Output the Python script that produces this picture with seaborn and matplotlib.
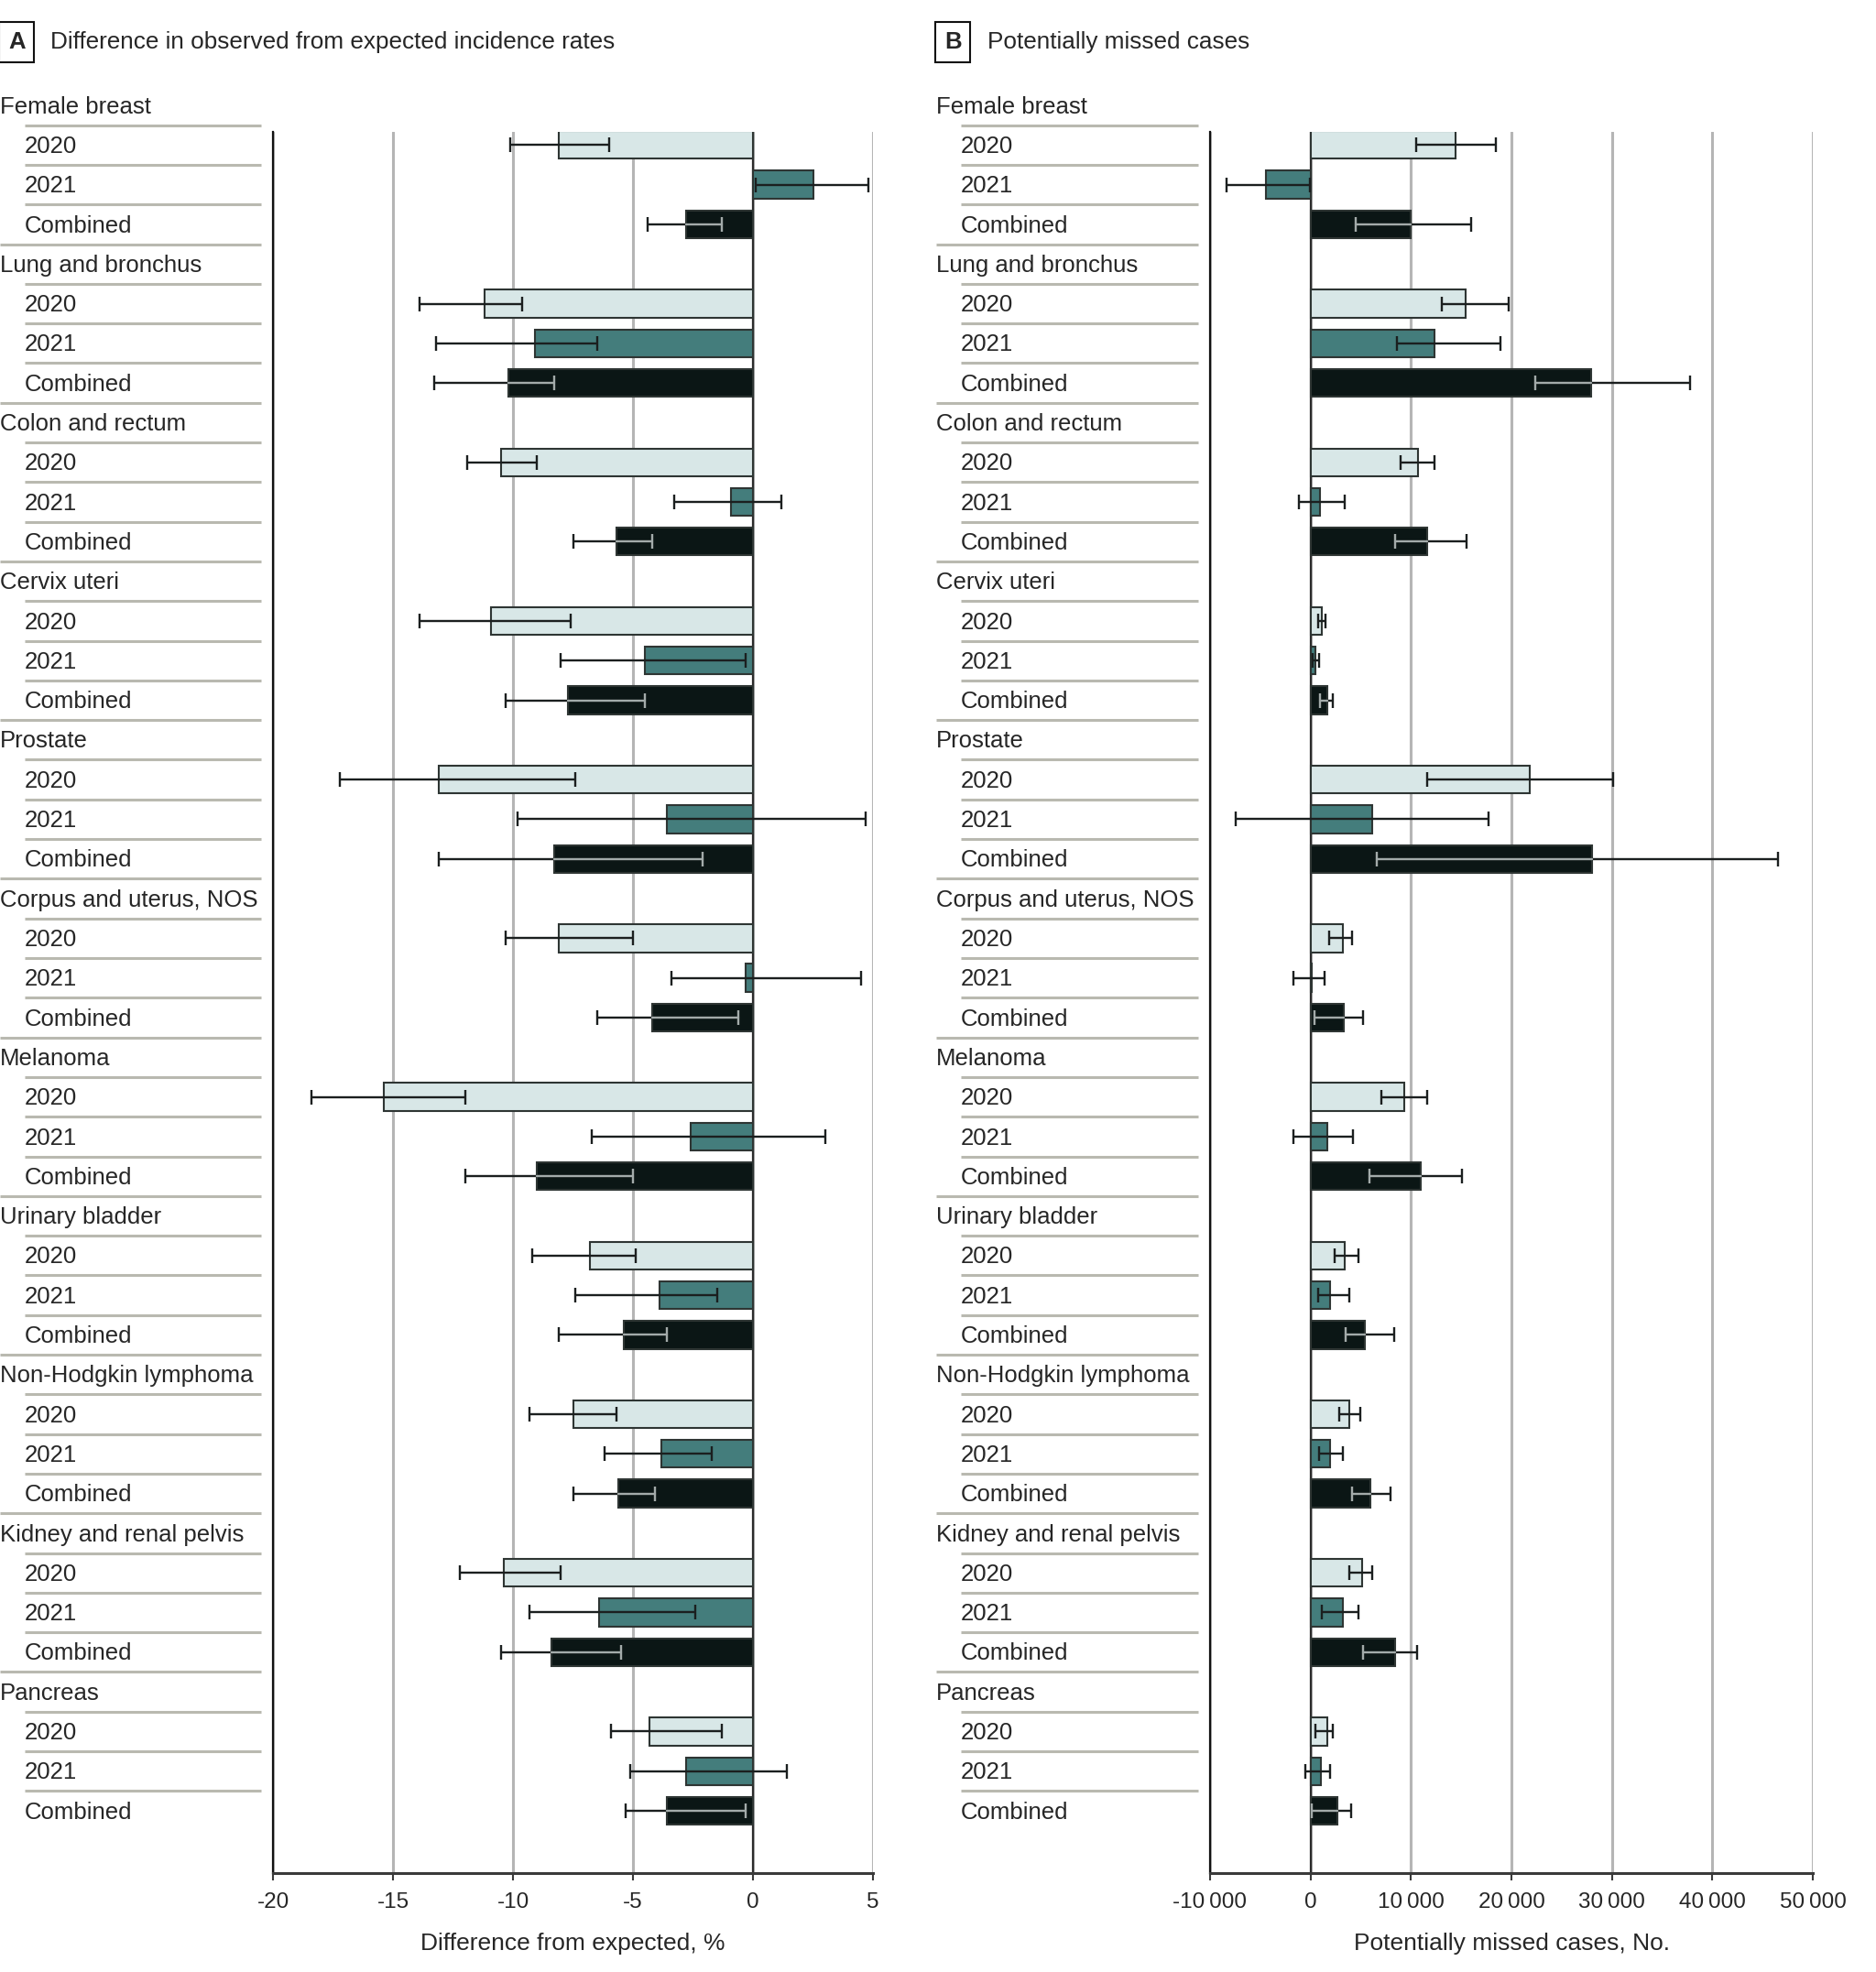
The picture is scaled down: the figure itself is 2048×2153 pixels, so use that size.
import matplotlib
matplotlib.use("Agg")
import matplotlib.pyplot as plt
import matplotlib.transforms as mtransforms
import numpy as np
import pandas as pd
import seaborn as sns

# data ----------------------------------------------------------------------
sites = ["Female breast", "Lung and bronchus", "Colon and rectum", "Cervix uteri",
         "Prostate", "Corpus and uterus, NOS", "Melanoma", "Urinary bladder",
         "Non-Hodgkin lymphoma", "Kidney and renal pelvis", "Pancreas"]
periods = ["2020", "2021", "Combined"]

# panel A: difference from expected, %  (2020, 2021, combined per site)
pct_diff = [[-8.1, 2.5, -2.8], [-11.2, -9.1, -10.2], [-10.5, -0.9, -5.7],
            [-10.9, -4.5, -7.7], [-13.1, -3.6, -8.3], [-8.1, -0.3, -4.2],
            [-15.4, -2.6, -9.0], [-6.8, -3.9, -5.4], [-7.5, -3.8, -5.6],
            [-10.4, -6.4, -8.4], [-4.3, -2.8, -3.6]]
pct_lo = [[-10.1, 0.1, -4.4], [-13.9, -13.2, -13.3], [-11.9, -3.3, -7.5],
          [-13.9, -8.0, -10.3], [-17.2, -9.8, -13.1], [-10.3, -3.4, -6.5],
          [-18.4, -6.7, -12.0], [-9.2, -7.4, -8.1], [-9.3, -6.2, -7.5],
          [-12.2, -9.3, -10.5], [-5.9, -5.1, -5.3]]
pct_hi = [[-6.0, 4.8, -1.3], [-9.6, -6.5, -8.3], [-9.0, 1.2, -4.2],
          [-7.6, -0.3, -4.5], [-7.4, 4.7, -2.1], [-5.0, 4.5, -0.6],
          [-12.0, 3.0, -5.0], [-4.9, -1.5, -3.6], [-5.7, -1.7, -4.1],
          [-8.0, -2.4, -5.5], [-1.3, 1.4, -0.3]]

# panel B: potentially missed cases, No.
missed = [[14430, -4470, 9970], [15470, 12360, 27890], [10690, 950, 11640],
          [1150, 480, 1670], [21850, 6160, 28050], [3180, 80, 3300],
          [9340, 1630, 11000], [3420, 1990, 5400], [3890, 1990, 5920],
          [5170, 3180, 8380], [1630, 1070, 2700]]
missed_lo = [[10520, -8380, 4530], [13030, 8560, 22390], [8980, -1150, 8420],
             [760, 200, 950], [11600, -7430, 6640], [1870, -1710, 440],
             [7030, -1710, 5880], [2420, 720, 3540], [2860, 870, 4170],
             [3890, 1110, 5240], [480, -520, 160]]
missed_hi = [[18470, -100, 16030], [19690, 18900, 37740], [12360, 3420, 15500],
             [1510, 830, 2230], [30080, 17760, 46560], [4130, 1390, 5240],
             [11600, 4250, 15100], [4770, 3850, 8340], [4930, 3220, 7950],
             [6160, 4770, 10570], [2230, 1990, 4050]]

colors = {"2020": "#d5e9ea", "2021": "#3b8685", "Combined": "#091816"}

# long table, one row per bar; rows are spaced so each site gets a header row
records = []
for i, site in enumerate(sites):
    for j, per in enumerate(periods):
        records.append({"site": site, "period": per, "row": i * 4 + 1 + j,
                        "pct": pct_diff[i][j], "pct_lo": pct_lo[i][j], "pct_hi": pct_hi[i][j],
                        "missed": missed[i][j], "missed_lo": missed_lo[i][j],
                        "missed_hi": missed_hi[i][j]})
df = pd.DataFrame(records)
n_rows = len(sites) * 4

# figure ---------------------------------------------------------------------
sns.set_style("white")
plt.rcParams["font.family"] = ["Liberation Sans", "DejaVu Sans"]
FS = 18.5
W, H = 2048, 2153
fig = plt.figure(figsize=(W / 100, H / 100), dpi=100)

top_px, bot_px = 144, 2045
ax_a = fig.add_axes([298 / W, 1 - bot_px / H, 655 / W, (bot_px - top_px) / H])
ax_b = fig.add_axes([1321 / W, 1 - bot_px / H, 658 / W, (bot_px - top_px) / H])

GRID = "#b5b5b5"
SEP = "#b9b9b0"
TXT_OFF = 0.2   # baseline offset (rows) so the cap height sits on the row centre


def draw_panel(ax, col, xlim, xticks, xticklabels, xlabel, label_x0, label_x1, sep_x1):
    sns.barplot(data=df, x=col, y="row", hue="period", hue_order=periods,
                palette=colors, orient="h", native_scale=True, dodge=False,
                width=0.7, errorbar=None, edgecolor="#2e3533", linewidth=1.5,
                legend=False, ax=ax, zorder=3)

    err_lo = df[col] - df[col + "_lo"]
    err_hi = df[col + "_hi"] - df[col]
    ax.errorbar(df[col], df["row"], xerr=[err_lo, err_hi], fmt="none",
                ecolor="#1b1f1f", elinewidth=1.7, capsize=6, capthick=1.7, zorder=4)

    # inside the dark combined bars the interval is drawn in grey
    comb = df[df["period"] == "Combined"]
    for _, r in comb.iterrows():
        b0, b1 = min(0, r[col]), max(0, r[col])
        s0, s1 = max(b0, r[col + "_lo"]), min(b1, r[col + "_hi"])
        if s1 > s0:
            ax.plot([s0, s1], [r["row"], r["row"]], color="#a3abaa", lw=1.7, zorder=5)
        for e in (r[col + "_lo"], r[col + "_hi"]):
            if b0 < e < b1:
                ax.plot([e], [r["row"]], marker="|", ms=12, mew=1.7,
                        color="#a3abaa", zorder=5)

    ax.set_xlim(*xlim)
    ax.set_ylim(n_rows + 0.57, 0.67)
    ax.set_xticks(xticks)
    ax.set_xticklabels(xticklabels, fontsize=17.5)
    ax.set_yticks([])
    ax.set_xlabel(xlabel, fontsize=19, labelpad=16)
    ax.set_ylabel("")
    ax.set_axisbelow(True)
    ax.grid(axis="x", color=GRID, linewidth=2.2)
    ax.axvline(0, color="#2b2b2b", linewidth=1.6, zorder=2)
    for s in ("top", "right"):
        ax.spines[s].set_visible(False)
    ax.spines["left"].set_color("#111111")
    ax.spines["left"].set_linewidth(1.6)
    ax.spines["bottom"].set_color("#3a3a3a")
    ax.spines["bottom"].set_linewidth(2.2)
    ax.tick_params(axis="x", direction="out", length=6, width=1.5,
                   color="#3a3a3a", pad=9, bottom=True)

    # row labels and separators to the left of the axes
    tr = mtransforms.blended_transform_factory(fig.transFigure, ax.transData)
    for i, site in enumerate(sites):
        base = i * 4
        ax.text(label_x0 / W, base + TXT_OFF, site, transform=tr, fontsize=FS,
                ha="left", va="baseline", clip_on=False)
        for j, per in enumerate(periods):
            ax.text(label_x1 / W, base + 1 + j + TXT_OFF, per, transform=tr,
                    fontsize=FS, ha="left", va="baseline", clip_on=False)
        for k in range(4):
            y = base + k + 0.5
            if y > n_rows - 1:
                continue
            x0 = label_x0 if k == 3 else label_x1
            ax.plot([x0 / W, sep_x1 / W], [y, y], transform=tr, color=SEP,
                    lw=2.2, clip_on=False, solid_capstyle="butt")


draw_panel(ax_a, "pct", (-20, 5), [-20, -15, -10, -5, 0, 5],
           ["-20", "-15", "-10", "-5", "0", "5"],
           "Difference from expected, %", 0, 27, 285)

b_ticks = [-10000, 0, 10000, 20000, 30000, 40000, 50000]
b_labels = [f"{t:,}".replace(",", "\u2009") for t in b_ticks]
draw_panel(ax_b, "missed", (-10000, 50000), b_ticks, b_labels,
           "Potentially missed cases, No.", 1022, 1049, 1308)

# panel titles
for x_box, x_txt, letter, title in [(9, 55, "A", "Difference in observed from expected incidence rates"),
                                    (1031, 1078, "B", "Potentially missed cases")]:
    fig.text(x_box / W, 1 - 46 / H, letter, fontsize=FS, fontweight="bold",
             ha="left", va="center",
             bbox=dict(boxstyle="square,pad=0.38", fc="white", ec="#111111", lw=1.5))
    fig.text(x_txt / W, 1 - 46 / H, title, fontsize=18.8, ha="left", va="center")

fig.savefig("out.png", dpi=100)
